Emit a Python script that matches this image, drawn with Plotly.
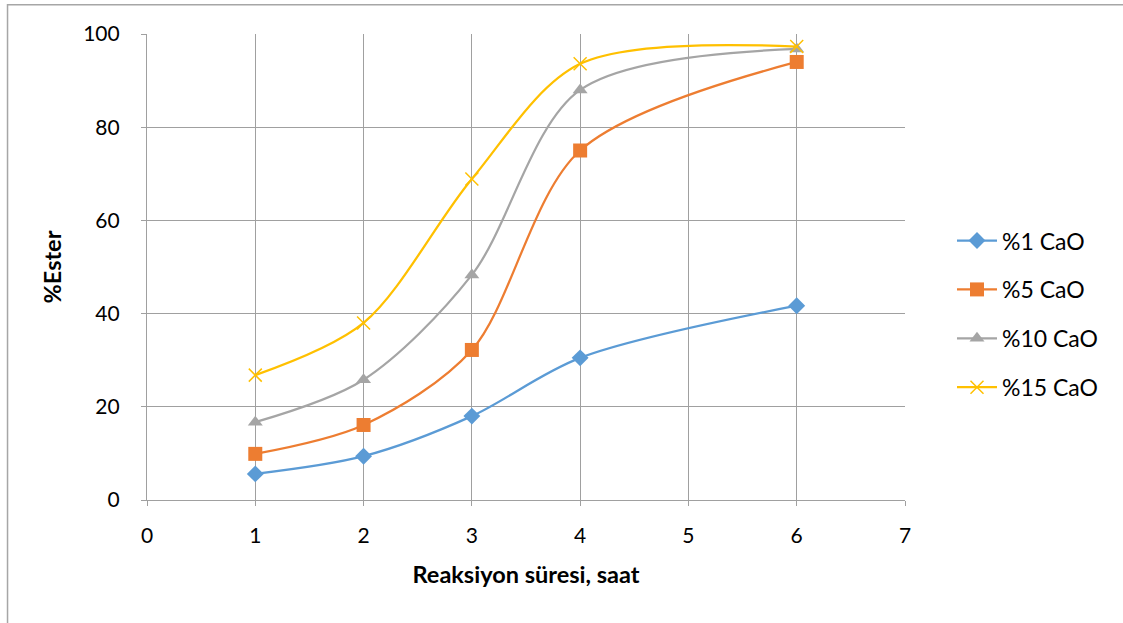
import plotly.graph_objects as go

x_hours = [1, 2, 3, 4, 6]
cao_1 = [5.6, 9.4, 18.0, 30.5, 41.7]
cao_5 = [9.9, 16.1, 32.2, 75.0, 94.0]
cao_10 = [16.7, 25.8, 48.3, 88.0, 96.8]
cao_15 = [26.8, 38.0, 68.9, 93.6, 97.3]
series_names = ["%1 CaO", "%5 CaO", "%10 CaO", "%15 CaO"]
colors = ["#5B9BD5", "#ED7D31", "#A5A5A5", "#FFC000"]
symbols = ["diamond", "square", "triangle-up", "x-thin"]
sizes = [13, 14, 13, 13]

FONT = "Lato"
fig = go.Figure()
for i, (name, ys) in enumerate(zip(series_names, [cao_1, cao_5, cao_10, cao_15])):
    marker = dict(symbol=symbols[i], size=sizes[i], color=colors[i])
    if symbols[i] == "x-thin":
        marker["line"] = dict(color=colors[i], width=1.5)
    fig.add_trace(go.Scatter(
        x=x_hours, y=ys, name=name, mode="lines+markers",
        line=dict(color=colors[i], width=2.25, shape="spline", smoothing=0.9),
        marker=marker, legendgroup=name,
    ))

fig.update_layout(
    width=1123, height=623,
    margin=dict(l=147, r=218, t=34, b=123),
    paper_bgcolor="white", plot_bgcolor="white",
    font=dict(family=FONT, size=21, color="black"),
    legend=dict(x=1.062, y=0.399, xanchor="left", yanchor="middle",
                font=dict(family=FONT, size=23), tracegroupgap=16,
                itemwidth=40),
    showlegend=True,
    shapes=[dict(type="rect", xref="paper", yref="paper",
                 x0=-0.184, x1=1.5, y0=-0.6, y1=1.063,
                 line=dict(color="#A6A6A6", width=1.5), layer="below")],
)
fig.update_xaxes(
    range=[0, 7], dtick=1, tick0=0, showgrid=True, gridcolor="#A0A0A0", gridwidth=1.2,
    showline=True, linecolor="#A0A0A0", linewidth=1.2, ticks="outside", ticklen=5,
    tickcolor="#A0A0A0", zeroline=False, ticklabelstandoff=12,
    tickfont=dict(family=FONT, size=21),
    title=dict(text="<b>Reaksiyon süresi, saat</b>", font=dict(family=FONT, size=23.5), standoff=20),
)
fig.update_yaxes(
    range=[0, 100], dtick=20, showgrid=True, gridcolor="#A0A0A0", gridwidth=1.2,
    showline=True, linecolor="#A0A0A0", linewidth=1.2, ticks="outside", ticklen=5,
    tickcolor="#A0A0A0", zeroline=False, ticklabelstandoff=17,
    tickfont=dict(family=FONT, size=21),
    title=dict(text="<b>%Ester</b>", font=dict(family=FONT, size=23.5), standoff=14),
)
fig.write_html("out.html")
